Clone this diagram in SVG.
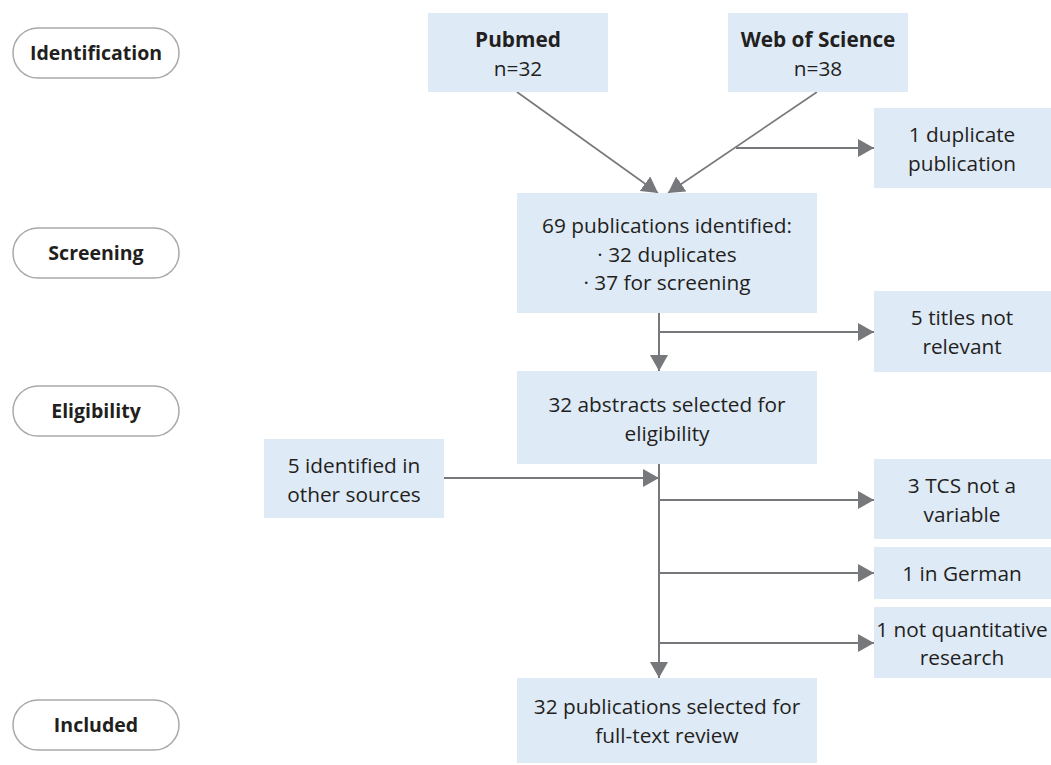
<svg xmlns="http://www.w3.org/2000/svg" width="1051" height="765" viewBox="0 0 1051 765">
<defs>
<marker id="ah" markerUnits="userSpaceOnUse" markerWidth="17" markerHeight="19" refX="16" refY="9" orient="auto">
<path d="M0,0 L16,9 L0,18 z" fill="#77787b"/>
</marker>
<style>
.pill{fill:#fff;stroke:#a7a9ac;stroke-width:1.5}
.pt{font-family:"Open Sans","Noto Sans",sans-serif;font-weight:bold;font-size:19.5px;fill:#231f20;text-anchor:middle}
.box{fill:#dfeaf7}
.t{font-family:"Open Sans","Noto Sans",sans-serif;font-size:20.8px;fill:#231f20;text-anchor:middle}
.b{font-weight:bold}
.ln{stroke:#77787b;stroke-width:2;fill:none}
.dg{stroke:#77787b;stroke-width:1.6;fill:none}
</style>
</defs>
<rect width="1051" height="765" fill="#fff"/>
<g id="stage-identification"><rect class="pill" x="13" y="28" width="166" height="50" rx="25"/><text class="pt" x="96" y="60">Identification</text></g>
<g id="stage-screening"><rect class="pill" x="13" y="228" width="166" height="50" rx="25"/><text class="pt" x="96" y="260">Screening</text></g>
<g id="stage-eligibility"><rect class="pill" x="13" y="386" width="166" height="50" rx="25"/><text class="pt" x="96" y="418">Eligibility</text></g>
<g id="stage-included"><rect class="pill" x="13" y="700" width="166" height="50" rx="25"/><text class="pt" x="96" y="732">Included</text></g>

<g id="connectors">
<line class="dg" x1="517" y1="92" x2="658" y2="193" marker-end="url(#ah)"/>
<line class="dg" x1="817" y1="92" x2="668" y2="193" marker-end="url(#ah)"/>
<line class="ln" x1="736" y1="148" x2="874" y2="148" marker-end="url(#ah)"/>
<line class="ln" x1="659" y1="313" x2="659" y2="371" marker-end="url(#ah)"/>
<line class="ln" x1="659" y1="332" x2="874" y2="332" marker-end="url(#ah)"/>
<line class="ln" x1="659" y1="464" x2="659" y2="678" marker-end="url(#ah)"/>
<line class="ln" x1="444" y1="478" x2="659" y2="478" marker-end="url(#ah)"/>
<line class="ln" x1="659" y1="500" x2="874" y2="500" marker-end="url(#ah)"/>
<line class="ln" x1="659" y1="573" x2="874" y2="573" marker-end="url(#ah)"/>
<line class="ln" x1="659" y1="643" x2="874" y2="643" marker-end="url(#ah)"/>
</g>

<g id="pubmed"><rect class="box" x="428" y="13" width="180" height="79"/><text class="t b" x="518" y="47">Pubmed</text><text class="t" x="518" y="76">n=32</text></g>
<g id="wos"><rect class="box" x="728" y="13" width="180" height="79"/><text class="t b" x="818" y="47">Web of Science</text><text class="t" x="818" y="76">n=38</text></g>
<g id="dup"><rect class="box" x="874" y="108" width="177" height="80"/><text class="t" x="962" y="142">1 duplicate</text><text class="t" x="962" y="171">publication</text></g>
<g id="identified"><rect class="box" x="517" y="193" width="300" height="120"/><text class="t" x="667" y="233">69 publications identified:</text><text class="t" x="667" y="262">· 32 duplicates</text><text class="t" x="667" y="290">· 37 for screening</text></g>
<g id="titles"><rect class="box" x="874" y="291" width="177" height="81"/><text class="t" x="962" y="325">5 titles not</text><text class="t" x="962" y="354">relevant</text></g>
<g id="abstracts"><rect class="box" x="517" y="371" width="300" height="93"/><text class="t" x="667" y="412">32 abstracts selected for</text><text class="t" x="667" y="441">eligibility</text></g>
<g id="other"><rect class="box" x="264" y="439" width="180" height="79"/><text class="t" x="354" y="473">5 identified in</text><text class="t" x="354" y="502">other sources</text></g>
<g id="tcs"><rect class="box" x="874" y="459" width="177" height="80"/><text class="t" x="962" y="493">3 TCS not a</text><text class="t" x="962" y="522">variable</text></g>
<g id="german"><rect class="box" x="874" y="547" width="177" height="52"/><text class="t" x="962" y="581">1 in German</text></g>
<g id="quant"><rect class="box" x="874" y="607" width="177" height="71"/><text class="t" x="962" y="637">1 not quantitative</text><text class="t" x="962" y="665">research</text></g>
<g id="fulltext"><rect class="box" x="517" y="678" width="300" height="85"/><text class="t" x="667" y="714">32 publications selected for</text><text class="t" x="667" y="743">full-text review</text></g>
</svg>
